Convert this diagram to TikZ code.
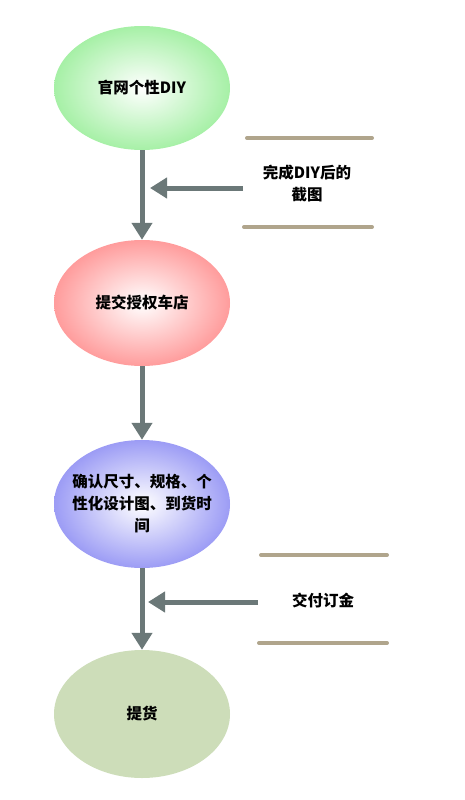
\documentclass[tikz,border=0pt]{standalone}
\usepackage{fontspec}
\newfontfamily\cjk{Noto Sans CJK SC}
\usetikzlibrary{arrows.meta,shapes.geometric}
\definecolor{arrowgray}{HTML}{6B7878}
\definecolor{tanline}{HTML}{B0A58C}
\definecolor{eg}{HTML}{A6F0A6}
\definecolor{ep}{HTML}{FF9C9C}
\definecolor{eb}{HTML}{9C9CF5}
\definecolor{eo}{HTML}{CDDDB9}
\begin{document}
\begin{tikzpicture}[x=1pt,y=-1pt,
  stage/.style={ellipse,minimum width=176pt,minimum height=124pt,inner xsep=-25pt,inner ysep=-15pt,
    font=\cjk\fontsize{15.5}{22}\selectfont\bfseries,align=center,text width=150pt},
  flow/.style={line width=5pt,draw=arrowgray,-{Triangle[width=20pt,length=17pt]}},
  rule/.style={line width=4pt,draw=tanline,line cap=round},
  note/.style={font=\cjk\fontsize{15.5}{22}\selectfont\bfseries,align=center}]
\useasboundingbox (0,0) rectangle (465,800);
\node[stage,shading=radial,inner color=white,outer color=eg] (a) at (142,88) {官网个性DIY};
\node[stage,shading=radial,inner color=white,outer color=ep,minimum height=126pt] (b) at (142,303) {提交授权车店};
\node[stage,shading=radial,inner color=white,outer color=eb,minimum height=128pt] (c) at (142,504) {确认尺寸、规格、个\\性化设计图、到货时\\间};
\node[stage,fill=eo,minimum height=128pt] (d) at (142,714) {提货};
\draw[flow] (a) -- (b);
\draw[flow] (b) -- (c);
\draw[flow] (c) -- (d);
\coordinate (s1) at (243,188);
\coordinate (t1) at (150,188);
\coordinate (s2) at (258,602);
\coordinate (t2) at (148,602);
\draw[flow] (s1) -- (t1);
\draw[flow] (s2) -- (t2);
\coordinate (l1a) at (247,138); \coordinate (l1b) at (372,138);
\coordinate (l2a) at (244,227); \coordinate (l2b) at (372,227);
\coordinate (l3a) at (261,555); \coordinate (l3b) at (387,555);
\coordinate (l4a) at (259,643); \coordinate (l4b) at (387,643);
\draw[rule] (l1a) -- (l1b);
\draw[rule] (l2a) -- (l2b);
\draw[rule] (l3a) -- (l3b);
\draw[rule] (l4a) -- (l4b);
\node[note] (n1) at (307,183) {完成DIY后的\\截图};
\node[note] (n2) at (323,601) {交付订金};
\end{tikzpicture}
\end{document}
